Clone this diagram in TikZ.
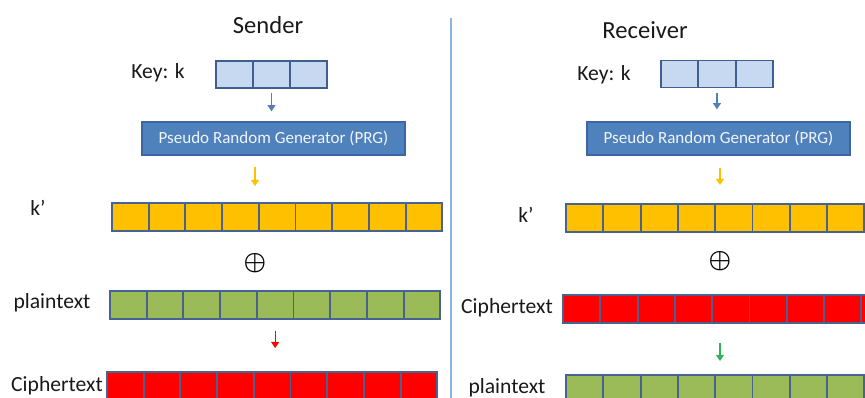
\documentclass[tikz,border=0pt]{standalone}
\usepackage{fontspec}
\setmainfont{Carlito}
\usetikzlibrary{arrows.meta,positioning,calc}
\definecolor{keyfill}{HTML}{C6D9F1}
\definecolor{keyline}{HTML}{3F5F8F}
\definecolor{prgblue}{HTML}{4F81BD}
\definecolor{prgline}{HTML}{3A679F}
\definecolor{cellline}{HTML}{46648F}
\definecolor{kyellow}{HTML}{FFC000}
\definecolor{pgreen}{HTML}{9BBB59}
\definecolor{cred}{HTML}{FF0000}
\definecolor{agreen}{HTML}{2DB35A}
\definecolor{divider}{HTML}{8DB3E2}

\begin{document}
\begin{tikzpicture}[
    x=0.02cm, y=-0.02cm,
    title/.style={font=\fontsize{14}{16}\selectfont, text=black!90},
    lbl/.style={font=\fontsize{12.3}{14}\selectfont, text=black!90, inner sep=0pt},
    keycell/.style={draw=keyline, line width=0.9pt, fill=keyfill, minimum width=0.74cm, minimum height=0.54cm, inner sep=0pt},
    cell/.style={draw=cellline, line width=1.1pt, minimum width=0.734cm, minimum height=0.56cm, inner sep=0pt},
    rcell/.style={cell, minimum width=0.746cm},
    prg/.style={draw=prgline, line width=0.8pt, fill=prgblue, minimum width=5.26cm, minimum height=0.66cm, text=white!92!prgblue, font=\fontsize{9.7}{11}\selectfont},
    xorsym/.style={font=\fontsize{13.5}{14}\selectfont\boldmath, inner sep=0pt},
    parrow/.style={-{Triangle[length=3.5pt,width=4.5pt]}, line width=0.7pt}
]
\clip (0,0) rectangle (865,398);

% divider between the two parties
\draw[divider, line width=0.9pt] (451,18) -- (451,398);

% ---- sender ----
\node[title] (sender) at (268,25) {Sender};
\node[lbl] (keylblL) at (158,73) {Key: k};
\foreach \i in {1,2,3}
  \node[keycell] (kyL\i) at ({216+37*(\i-0.5)},74.5) {};
\node[prg] (prgL) at (273.5,138.5) {Pseudo Random Generator (PRG)};

\node[lbl] (kplblL) at (38,208) {k’};
\foreach \i in {1,...,9}
  \node[cell, fill=kyellow] (kL\i) at ({112+36.7*(\i-0.5)},217) {};
\node[xorsym] (xorL) at (255,263) {$\oplus$};

\node[lbl] (ptlblL) at (52,303) {plaintext};
\foreach \i in {1,...,9}
  \node[cell, fill=pgreen] (pL\i) at ({110+36.7*(\i-0.5)},305) {};

\node[lbl] (ctlblL) at (57,386) {Ciphertext};
\foreach \i in {1,...,9}
  \node[cell, fill=cred] (cL\i) at ({107+36.7*(\i-0.5)},386) {};

\draw[parrow, prgblue, shorten <=0.08cm, shorten >=0.2cm] (kyL2.south) -- (kyL2.south |- prgL.north);
\draw[parrow, kyellow, shorten <=0.22cm, shorten >=0.32cm] (xorL |- prgL.south) -- (xorL |- kL1.north);
\draw[parrow, cred, shorten <=0.22cm, shorten >=0.46cm] (pL5.south) -- (pL5.south |- cL5.north);

% ---- receiver ----
\node[title] (receiver) at (645,30) {Receiver};
\node[lbl] (keylblR) at (604,75) {Key: k};
\foreach \i in {1,2,3}
  \node[keycell] (kyR\i) at ({661+37.3*(\i-0.5)},74) {};
\node[prg] (prgR) at (718.5,138.5) {Pseudo Random Generator (PRG)};

\node[lbl] (kplblR) at (526,215) {k’};
\foreach \i in {1,...,9}
  \node[rcell, fill=kyellow] (kR\i) at ({566+37.3*(\i-0.5)},218) {};
\node[xorsym] (xorR) at (720,261) {$\oplus$};

\node[lbl] (ctlblR) at (507,308) {Ciphertext};
\foreach \i in {1,...,9}
  \node[rcell, fill=cred] (cR\i) at ({563+37.3*(\i-0.5)},309) {};

\node[lbl] (ptlblR) at (507,388) {plaintext};
\foreach \i in {1,...,9}
  \node[rcell, fill=pgreen] (pR\i) at ({566+37.3*(\i-0.5)},389) {};

\draw[parrow, prgblue, shorten <=0.1cm, shorten >=0.24cm] (kyR2.south) -- (kyR2.south |- prgR.north);
\draw[parrow, kyellow, shorten <=0.24cm, shorten >=0.36cm] (xorR |- prgR.south) -- (xorR |- kR1.north);
\draw[parrow, agreen, shorten <=0.38cm, shorten >=0.26cm] (xorR |- cR1.south) -- (xorR |- pR1.north);

\end{tikzpicture}
\end{document}
